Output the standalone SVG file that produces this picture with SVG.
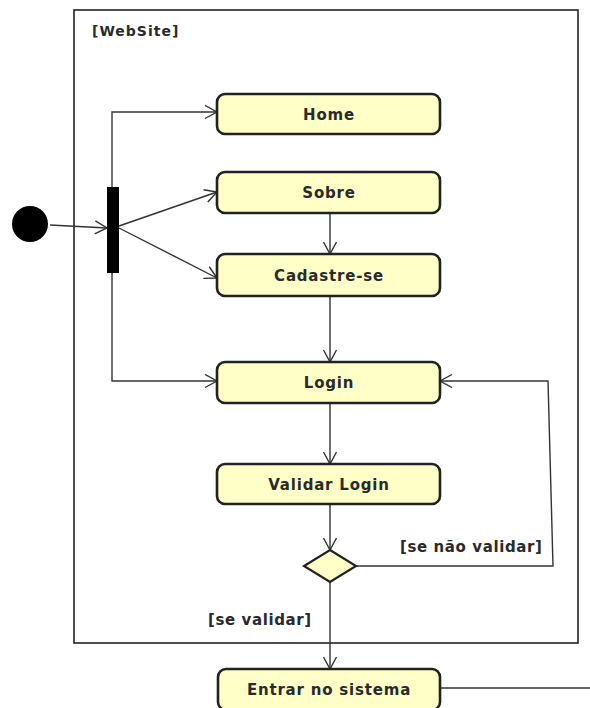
<svg xmlns="http://www.w3.org/2000/svg" width="590" height="708" viewBox="0 0 590 708">
  <style>
    .frame { fill: #ffffff; stroke: #222; stroke-width: 1.6; }
    .action { fill: #ffffc8; stroke: #222; stroke-width: 2.6; }
    .decision { fill: #ffffc8; stroke: #222; stroke-width: 2.2; }
    .flow { fill: none; stroke: #333; stroke-width: 1.4; }
    .lbl { font-family: "DejaVu Sans", Verdana, sans-serif; font-size: 15px; font-weight: bold; letter-spacing: 0.8px; fill: #2a2a2a; text-anchor: middle; }
    .guard { font-family: "DejaVu Sans", Verdana, sans-serif; font-size: 15px; font-weight: bold; letter-spacing: 0.6px; fill: #2a2a2a; }
  </style>
  <defs>
    <marker id="open" markerUnits="userSpaceOnUse" markerWidth="16" markerHeight="16" refX="13" refY="7" orient="auto">
      <path d="M1,0.5 L13,7 L1,13.5" fill="none" stroke="#333" stroke-width="1.4"/>
    </marker>
  </defs>
  <rect width="590" height="708" fill="#ffffff"/>

  <!-- activity partition -->
  <g id="website">
    <rect class="frame" x="74" y="10" width="504" height="633"/>
    <text class="guard" x="92" y="36" style="font-size:14px;letter-spacing:1px">[WebSite]</text>
  </g>

  <!-- flows -->
  <g id="connectors">
    <path class="flow" d="M50,225 L107,228" marker-end="url(#open)"/>
    <path class="flow" d="M112,187 L112,112 L217,112" marker-end="url(#open)"/>
    <path class="flow" d="M119,226 L217,192" marker-end="url(#open)"/>
    <path class="flow" d="M119,228 L217,278" marker-end="url(#open)"/>
    <path class="flow" d="M112,273 L112,381 L217,381" marker-end="url(#open)"/>
    <path class="flow" d="M330,213 L330,254" marker-end="url(#open)"/>
    <path class="flow" d="M330,297 L330,362" marker-end="url(#open)"/>
    <path class="flow" d="M330,403 L330,464" marker-end="url(#open)"/>
    <path class="flow" d="M330,504 L330,550" marker-end="url(#open)"/>
    <path class="flow" d="M356,566 L553,566 L548,381 L440,381" marker-end="url(#open)"/>
    <path class="flow" d="M330,582 L330,669" marker-end="url(#open)"/>
    <path class="flow" d="M440,688 L590,688"/>
    <text class="guard" x="400" y="552">[se não validar]</text>
    <text class="guard" x="208" y="625">[se validar]</text>
  </g>

  <g id="initial">
    <circle cx="30" cy="224" r="18" fill="#000"/>
  </g>

  <g id="fork">
    <rect x="107" y="187" width="12" height="86" fill="#000"/>
  </g>

  <g id="home">
    <rect class="action" x="217" y="94" width="223" height="40" rx="8"/>
    <text class="lbl" x="329" y="120">Home</text>
  </g>

  <g id="sobre">
    <rect class="action" x="217" y="172" width="223" height="41" rx="8"/>
    <text class="lbl" x="329" y="198">Sobre</text>
  </g>

  <g id="cadastre">
    <rect class="action" x="217" y="254" width="223" height="42" rx="8"/>
    <text class="lbl" x="329" y="281">Cadastre-se</text>
  </g>

  <g id="login">
    <rect class="action" x="217" y="362" width="223" height="41" rx="8"/>
    <text class="lbl" x="329" y="388">Login</text>
  </g>

  <g id="validar">
    <rect class="action" x="217" y="464" width="223" height="40" rx="8"/>
    <text class="lbl" x="329" y="490">Validar Login</text>
  </g>

  <g id="decisao">
    <polygon class="decision" points="330,550 356,566 330,582 304,566"/>
  </g>

  <g id="entrar">
    <rect class="action" x="218" y="669" width="222" height="41" rx="8"/>
    <text class="lbl" x="329" y="695">Entrar no sistema</text>
  </g>
</svg>
